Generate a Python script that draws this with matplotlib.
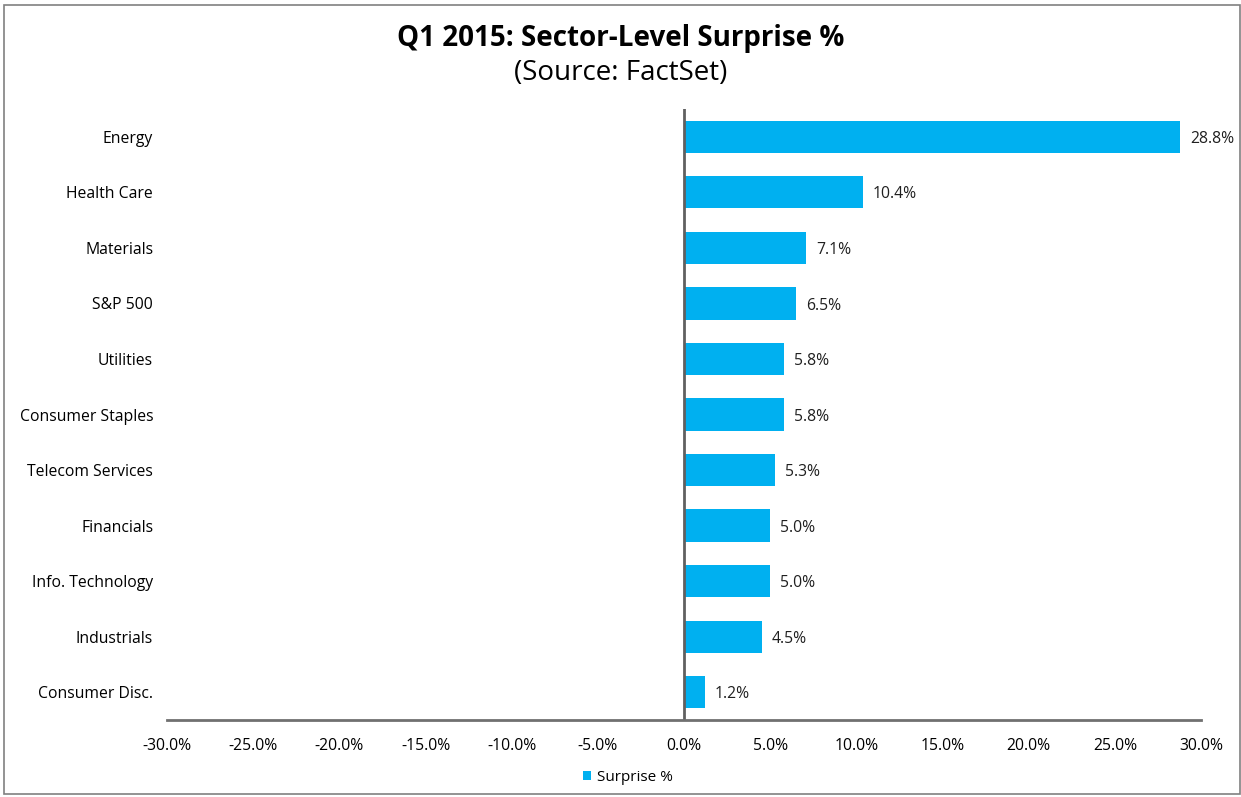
import matplotlib.pyplot as plt
from matplotlib.patches import Rectangle
from matplotlib.ticker import FuncFormatter

# sector surprise figures, top to bottom
sectors = ['Energy', 'Health Care', 'Materials', 'S&P 500', 'Utilities',
           'Consumer Staples', 'Telecom Services', 'Financials',
           'Info. Technology', 'Industrials', 'Consumer Disc.']
surprise = [28.8, 10.4, 7.1, 6.5, 5.8, 5.8, 5.3, 5.0, 5.0, 4.5, 1.2]
xticks = [-30, -25, -20, -15, -10, -5, 0, 5, 10, 15, 20, 25, 30]

plt.rcParams['font.family'] = ['Open Sans', 'DejaVu Sans']
bar_color = '#00B0F0'

fig = plt.figure(figsize=(12.41, 7.97), dpi=100)
ax = fig.add_axes([0.1346, 0.0966, 0.8332, 0.7666])

pos = list(range(len(sectors)))
ax.barh(pos, surprise, height=0.58, color=bar_color, label='Surprise %')
ax.set_ylim(len(sectors) - 0.5, -0.5)
ax.set_xlim(-30, 30)

ax.set_yticks(pos)
ax.set_yticklabels(sectors, fontsize=11.3)
ax.set_xticks(xticks)
ax.xaxis.set_major_formatter(FuncFormatter(lambda v, p: f'{v:.1f}%'))
ax.tick_params(axis='x', length=0, pad=13, labelsize=11.3)
ax.tick_params(axis='y', length=0, pad=10)

for s in ['top', 'right', 'left']:
    ax.spines[s].set_visible(False)
ax.spines['bottom'].set_color('#707070')
ax.spines['bottom'].set_linewidth(2)
ax.axvline(0, color='#606060', lw=2)

for y, v in zip(pos, surprise):
    ax.annotate(f'{v:.1f}%', (v, y), xytext=(7, -1.5), textcoords='offset points',
                va='center', ha='left', fontsize=11.3, color='#202020')

fig.text(0.5, 0.952, 'Q1 2015: Sector-Level Surprise %', ha='center', va='center',
         fontsize=20, fontweight='bold')
fig.text(0.5, 0.908, '(Source: FactSet)', ha='center', va='center', fontsize=20)

leg = fig.legend(loc='center', bbox_to_anchor=(0.506, 0.025), frameon=False,
                 fontsize=11, handlelength=0.55, handleheight=0.55, handletextpad=0.4)

# outer chart border
fig.patches.append(Rectangle((0.003, 0.004), 0.996, 0.99, transform=fig.transFigure,
                             fill=False, edgecolor='#808080', lw=1.2))

fig.savefig('out.png', dpi=100)
